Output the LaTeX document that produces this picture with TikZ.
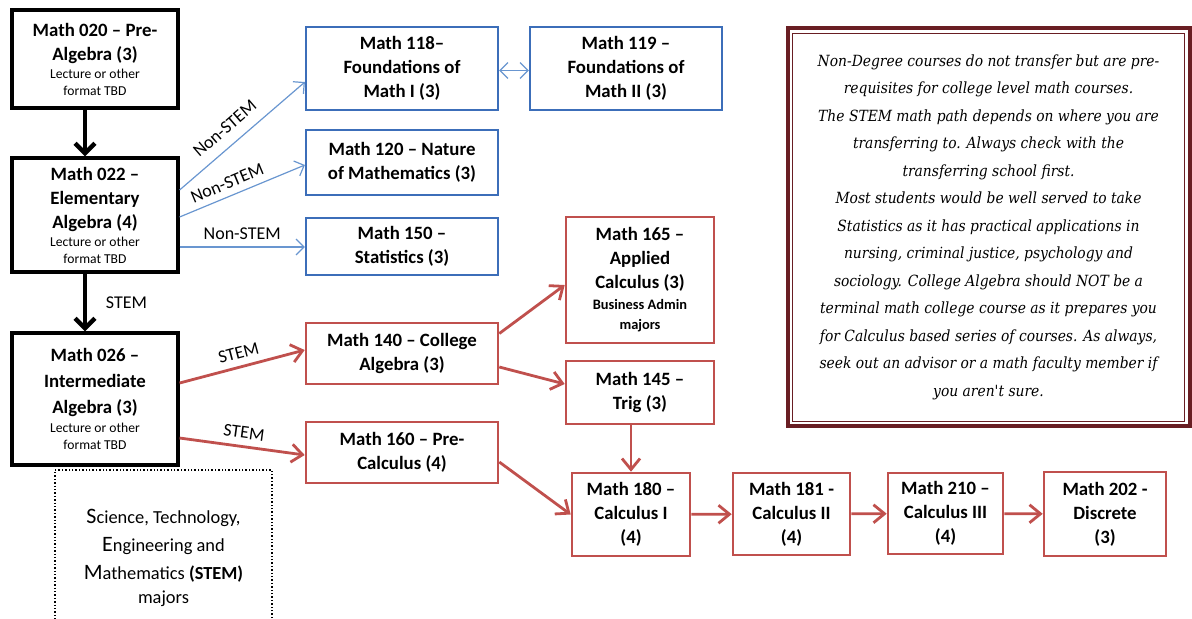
\documentclass[tikz,border=0pt]{standalone}
\usepackage{fontspec}
\setmainfont{Carlito}
\newfontfamily\notefont{DejaVu Serif}[FakeStretch=0.9]
\usetikzlibrary{arrows.meta}

\definecolor{boxblue}{RGB}{60,110,185}
\definecolor{lineblue}{RGB}{105,150,208}
\definecolor{boxred}{RGB}{192,80,77}
\definecolor{framered}{RGB}{105,30,35}

\newcommand\lecnote[1]{{\fontsize{6.8}{8.5}\selectfont\mdseries #1}}
\newcommand\initial[1]{{\fontsize{11}{12}\selectfont #1}}

\begin{document}
\begin{tikzpicture}[x=0.5pt, y=-0.5pt,
    course/.style={rectangle, draw, align=center, inner sep=2pt,
                   font=\fontsize{9.4}{12}\selectfont\bfseries},
    black course/.style={course, line width=1.6pt},
    blue course/.style={course, draw=boxblue, line width=1.1pt},
    red course/.style={course, draw=boxred, line width=1.3pt},
    black link/.style={line width=2.2pt, -{Straight Barb[length=5pt,width=10pt]}},
    blue link/.style={draw=lineblue, line width=0.6pt, -{Straight Barb[length=4pt,width=8pt]}},
    red link/.style={draw=boxred, line width=1.4pt, -{Straight Barb[length=5.5pt,width=9pt]}},
    path label/.style={font=\fontsize{9}{10}\selectfont}]

  \clip (0,0) rectangle (1192,618);

  % non-degree courses
  \node[black course, minimum width=83pt, minimum height=49pt] (m020) at (95,59)
    {Math 020 -- Pre-\\Algebra (3)\\[-3pt]\lecnote{Lecture or other}\\[-3.5pt]\lecnote{format TBD}};
  \node[black course, minimum width=83pt, minimum height=57pt] (m022) at (95,215)
    {Math 022 --\\Elementary\\Algebra (4)\\[-3pt]\lecnote{Lecture or other}\\[-3.5pt]\lecnote{format TBD}};
  \node[black course, minimum width=83pt, minimum height=66pt] (m026) at (95,399)
    {Math 026 --\\[1pt]Intermediate\\[1pt]Algebra (3)\\[-2.5pt]\lecnote{Lecture or other}\\[-3.5pt]\lecnote{format TBD}};

  % non-STEM courses
  \node[blue course, minimum width=96pt, minimum height=41.5pt] (m118) at (402,68.5)
    {Math 118--\\Foundations of\\Math I (3)};
  \node[blue course, minimum width=96pt, minimum height=41.5pt] (m119) at (626,68.5)
    {Math 119 --\\Foundations of\\Math II (3)};
  \node[blue course, minimum width=96pt, minimum height=32.5pt] (m120) at (402,162.5)
    {Math 120 -- Nature\\of Mathematics (3)};
  \node[blue course, minimum width=96pt, minimum height=28.5pt] (m150) at (402,246.5)
    {Math 150 --\\Statistics (3)};

  % STEM courses
  \node[red course, minimum width=96pt, minimum height=30.5pt] (m140) at (402,353.5)
    {Math 140 -- College\\Algebra (3)};
  \node[red course, minimum width=96pt, minimum height=30.5pt] (m160) at (402,452.5)
    {Math 160 -- Pre-\\Calculus (4)};
  \node[red course, minimum width=74pt, minimum height=63pt] (m165) at (640,280)
    {Math 165 --\\Applied\\Calculus (3)\\[-1.5pt]{\fontsize{7.2}{9}\selectfont Business Admin}\\[-2pt]{\fontsize{7.2}{9}\selectfont majors}};
  \node[red course, minimum width=74pt, minimum height=31.5pt] (m145) at (640,392.5)
    {Math 145 --\\Trig (3)};
  \node[red course, minimum width=59pt, minimum height=41.5pt] (m180) at (631,514.5)
    {Math 180 --\\Calculus I\\(4)};
  \node[red course, minimum width=58.5pt, minimum height=41pt] (m181) at (791.5,514)
    {Math 181 -\\Calculus II\\(4)};
  \node[red course, minimum width=57.5pt, minimum height=40.5pt] (m210) at (945.5,513.5)
    {Math 210 --\\Calculus III\\(4)};
  \node[red course, minimum width=61pt, minimum height=42pt] (m202) at (1105,514)
    {Math 202 -\\Discrete\\(3)};

  % legend and note
  \node[draw, densely dotted, line width=0.7pt, minimum width=108.5pt, minimum height=88pt,
        align=center, font=\fontsize{9.2}{14}\selectfont] (stem) at (163.5,558)
    {\initial{S}cience, Technology,\\\initial{E}ngineering and\\\initial{M}athematics \textbf{(STEM)}\\[-2pt]majors};
  \node[draw=framered, line width=2pt, minimum width=201pt, minimum height=199pt,
        align=center, font=\notefont\itshape\fontsize{7.7}{13.75}\selectfont] (note) at (988.5,227)
    {Non-Degree courses do not transfer but are pre-\\requisites for college level math courses.\\
     The STEM math path depends on where you are\\transferring to. Always check with the\\
     transferring school first.\\Most students would be well served to take\\
     Statistics as it has practical applications in\\nursing, criminal justice, psychology and\\
     sociology. College Algebra should NOT be a\\terminal math college course as it prepares you\\
     for Calculus based series of courses. As always,\\seek out an advisor or a math faculty member if\\
     you aren't sure.};
  \draw[framered, line width=0.5pt] ([shift={(3.5pt,-3.5pt)}]note.north west)
    rectangle ([shift={(-3.5pt,3.5pt)}]note.south east);

  % connectors
  \draw[black link] ([xshift=-5pt]m020.south) -- ([xshift=-5pt]m022.north);
  \draw[black link] ([xshift=-5pt]m022.south) -- node[right, path label, xshift=6pt] {STEM} ([xshift=-5pt]m026.north);

  \draw[blue link] ([yshift=12.5pt]m022.east) -- node[sloped, above=2pt, pos=0.45, path label] {Non-STEM} ([yshift=-6.75pt]m118.west);
  \draw[blue link] ([yshift=-1pt]m022.east) -- node[sloped, above, pos=0.42, path label] {Non-STEM} ([yshift=-1.25pt]m120.west);
  \draw[blue link] ([yshift=-16pt]m022.east) -- node[above, path label] {Non-STEM} ([yshift=-16pt]m022.east -| m150.west);
  \draw[blue link, {Straight Barb[length=4pt,width=8pt]}-{Straight Barb[length=4pt,width=8pt]}]
    ([yshift=-1pt]m118.east) -- ([yshift=-1pt]m119.west);

  \draw[red link] ([yshift=8pt]m026.east) -- node[sloped, above, path label] {STEM} ([yshift=1.75pt]m140.west);
  \draw[red link] ([yshift=-19.5pt]m026.east) -- node[sloped, above, path label] {STEM} ([yshift=-1.25pt]m160.west);
  \draw[red link] ([yshift=10pt]m140.east) -- ([yshift=-2.5pt]m165.west);
  \draw[red link] ([yshift=-6.75pt]m140.east) -- ([yshift=4.25pt]m145.west);
  \draw[red link] (m180.north |- m145.south) -- (m180.north);
  \draw[red link] ([yshift=-4.75pt]m160.east) -- (m180.west);
  \draw[red link] (m180) -- (m181);
  \draw[red link] (m181) -- (m210);
  \draw[red link] (m210) -- (m202);
\end{tikzpicture}
\end{document}
